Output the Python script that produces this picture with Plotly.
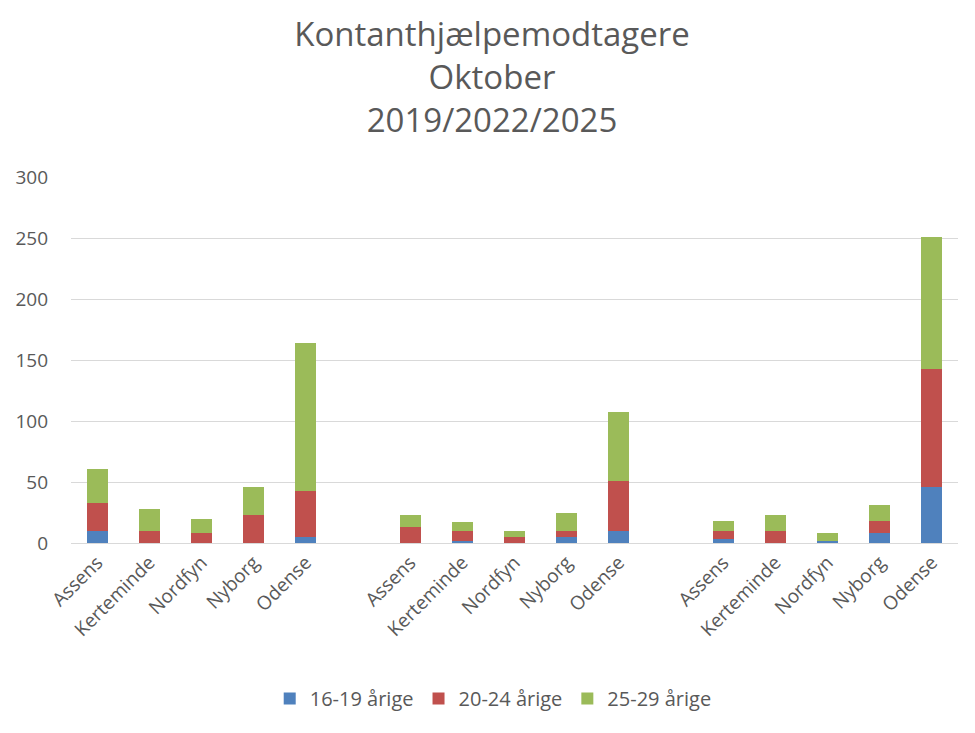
import plotly.graph_objects as go

municipalities = ["Assens", "Kerteminde", "Nordfyn", "Nyborg", "Odense"]
years = ["2019", "2022", "2025"]

# values per year group, in municipality order
age_16_19 = [[10, 0, 0, 0, 5], [0, 2, 0, 5, 10], [3, 0, 2, 8, 46]]
age_20_24 = [[23, 10, 8, 23, 38], [13, 8, 5, 5, 41], [7, 10, 0, 10, 97]]
age_25_29 = [[28, 18, 12, 23, 121], [10, 7, 5, 15, 56], [8, 13, 6, 13, 108]]

series = [
    ("16-19 årige", age_16_19, "#4F81BD"),
    ("20-24 årige", age_20_24, "#C0504D"),
    ("25-29 årige", age_25_29, "#9BBB59"),
]

slots_per_group = len(municipalities) + 1
xs = [g * slots_per_group + i for g in range(len(years)) for i in range(len(municipalities))]
labels = [m for _ in years for m in municipalities]

fig = go.Figure()
for name, vals, color in series:
    flat = [v for grp in vals for v in grp]
    fig.add_trace(go.Bar(
        x=xs, y=flat, name=name,
        marker=dict(color=color, line=dict(width=0)),
    ))

gray = "#595959"
fig.update_layout(
    barmode="stack",
    bargap=0.6,
    width=975, height=733, autosize=False,
    margin=dict(l=71, r=17, t=177, b=190, autoexpand=False),
    plot_bgcolor="white", paper_bgcolor="white",
    font=dict(family="Open Sans", color=gray, size=19),
    title=dict(
        text="Kontanthjælpemodtagere<br>Oktober<br>2019/2022/2025",
        x=492 / 975, xanchor="center", xref="container",
        y=1 - 46 / 733, yanchor="middle", yref="container",
        font=dict(family="Open Sans", size=33, color=gray),
    ),
    xaxis=dict(
        tickmode="array", tickvals=xs, ticktext=labels,
        tickangle=-45, range=[-0.5, len(years) * slots_per_group - 1.5],
        showgrid=False, showline=True, linecolor="#D9D9D9", linewidth=1,
        ticks="", tickfont=dict(size=19, color=gray), zeroline=False,
        automargin=False,
    ),
    yaxis=dict(
        range=[0, 300], dtick=50, showgrid=True, gridcolor="#D9D9D9", gridwidth=1,
        zeroline=False, showline=False, ticks="", tickfont=dict(size=19, color=gray),
        ticklabelstandoff=22, automargin=False,
    ),
    legend=dict(
        orientation="h", x=0.476, xanchor="center",
        y=-0.425, yanchor="middle",
        font=dict(size=20, color=gray), traceorder="normal",
    ),
    showlegend=True,
)

fig.write_html("out.html")
